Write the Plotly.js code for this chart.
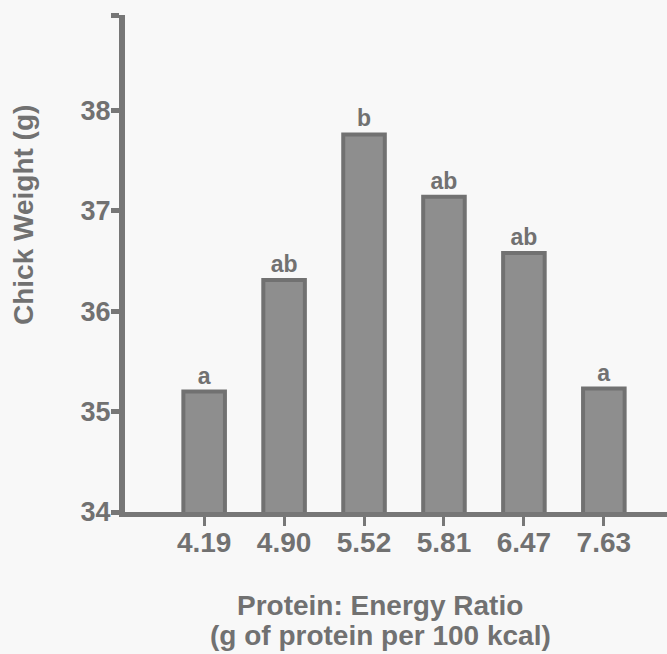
<!DOCTYPE html>
<html>
<head>
<meta charset="utf-8">
<script src="https://cdn.plot.ly/plotly-3.0.1.min.js"></script>
<style>html,body{margin:0;padding:0;background:#f8f8f8;}</style>
</head>
<body>
<div id="chart" style="width:667px;height:654px;"></div>
<script>
const ratios = ["4.19", "4.90", "5.52", "5.81", "6.47", "7.63"];
const weights = [35.2, 36.31, 37.76, 37.14, 36.58, 35.23];
const groups = ["a", "ab", "b", "ab", "ab", "a"];
const yTicks = [34, 35, 36, 37, 38];

const textColor = "#717171";
const fontFam = "Liberation Sans, Arial, Helvetica, sans-serif";
const yTop = 38.95;

const trace = {
  type: "bar",
  x: ratios,
  y: weights,
  text: groups,
  textposition: "outside",
  cliponaxis: false,
  textfont: {family: fontFam, size: 23, color: textColor, weight: "bold"},
  width: 0.52,
  marker: {color: "#8e8e8e", line: {color: "#717171", width: 4}},
  hoverinfo: "none"
};

const layout = {
  width: 667,
  height: 654,
  margin: {l: 125, r: 0, t: 15, b: 142},
  paper_bgcolor: "#f8f8f8",
  plot_bgcolor: "#f8f8f8",
  showlegend: false,
  font: {family: fontFam, color: textColor, weight: "bold"},
  xaxis: {
    type: "category",
    range: [-0.99, 5.79],
    showgrid: false,
    zeroline: false,
    showline: true,
    linecolor: "#777777",
    linewidth: 5,
    ticks: "outside",
    ticklen: 9,
    tickwidth: 3,
    tickcolor: "#777777",
    ticklabelstandoff: -8,
    tickfont: {family: fontFam, size: 28, color: textColor, weight: "bold"},
    fixedrange: true
  },
  yaxis: {
    range: [34, yTop],
    tickvals: yTicks.concat([yTop]),
    ticktext: yTicks.map(String).concat([""]),
    showgrid: false,
    zeroline: false,
    showline: true,
    linecolor: "#777777",
    linewidth: 6,
    ticks: "outside",
    ticklen: 8,
    tickwidth: 5,
    tickcolor: "#777777",
    ticklabelstandoff: -5,
    tickfont: {family: fontFam, size: 27, color: textColor, weight: "bold"},
    fixedrange: true
  },
  annotations: [
    {text: "Chick Weight (g)", xref: "paper", yref: "paper", x: 0, xshift: -102, xanchor: "center", y: 0, yshift: 297, yanchor: "middle", textangle: -90, showarrow: false, font: {family: fontFam, size: 28, color: textColor, weight: "bold"}},
    {text: "Protein: Energy Ratio", xref: "paper", yref: "paper", x: 0, xshift: 255, xanchor: "center", y: 0, yanchor: "middle", yshift: -93, showarrow: false, font: {family: fontFam, size: 28, color: textColor, weight: "bold"}},
    {text: "(g of protein per 100 kcal)", xref: "paper", yref: "paper", x: 0, xshift: 255, xanchor: "center", y: 0, yanchor: "middle", yshift: -123, showarrow: false, font: {family: fontFam, size: 28, color: textColor, weight: "bold"}}
  ]
};

Plotly.newPlot("chart", [trace], layout, {displayModeBar: false, staticPlot: true});
</script>
</body>
</html>
